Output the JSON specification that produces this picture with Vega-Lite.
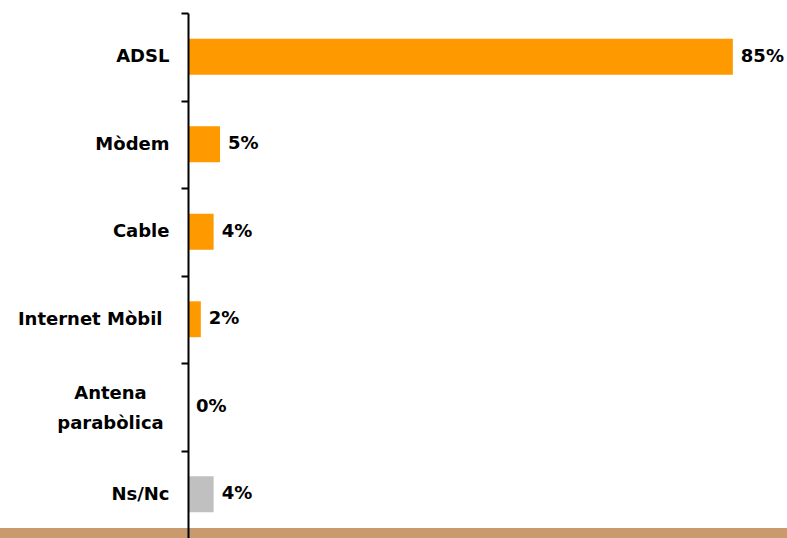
{
  "$schema": "https://vega.github.io/schema/vega-lite/v6.json",
  "width": 599,
  "height": 525,
  "autosize": {"type": "none"},
  "padding": {"left": 188, "top": 13, "right": 0, "bottom": 0},
  "background": "#ffffff",
  "config": {"view": {"stroke": null}},
  "data": {
    "values": [
      {"cat": "ADSL", "val": 0.85, "grp": "a"},
      {"cat": "Mòdem", "val": 0.05, "grp": "a"},
      {"cat": "Cable", "val": 0.04, "grp": "a"},
      {"cat": "Internet Mòbil", "val": 0.02, "grp": "a"},
      {"cat": "Antena|parabòlica", "val": 0.0, "grp": "a"},
      {"cat": "Ns/Nc", "val": 0.04, "grp": "b"}
    ]
  },
  "layer": [
    {
      "mark": {"type": "rect", "clip": false, "color": "#c89a6d"},
      "encoding": {
        "x": {"datum": -0.3, "type": "quantitative", "scale": {"domain": [0, 0.9345], "nice": false, "zero": false}, "axis": null},
        "x2": {"datum": 1.0},
        "y": {"datum": 0, "type": "quantitative", "scale": {"domain": [0, 1], "nice": false, "zero": false}, "axis": null},
        "y2": {"datum": 0.018}
      }
    },
    {
      "layer": [
        {
          "mark": {"type": "bar"},
          "encoding": {
            "color": {"field": "grp", "type": "nominal", "scale": {"domain": ["a", "b"], "range": ["#ff9900", "#c0c0c0"]}, "legend": null}
          }
        },
        {
          "mark": {"type": "text", "align": "left", "baseline": "middle", "dx": 8, "font": "DejaVu Sans", "fontWeight": "bold", "fontSize": 18, "color": "#000000"},
          "encoding": {
            "text": {"field": "val", "type": "quantitative", "format": ".0%"}
          }
        }
      ],
      "encoding": {
        "y": {
          "field": "cat", "type": "nominal", "sort": null,
          "scale": {"paddingInner": 0.59, "paddingOuter": 0.295},
          "axis": {
            "title": null,
            "zindex": 1,
            "domainColor": "#000000",
            "domainWidth": 2,
            "tickOffset": -43.75,
            "labelOffset": {"condition": {"test": "indexof(datum.value, '|') >= 0", "value": 30.75}, "value": 43.75},
            "labelPadding": {"condition": [
              {"test": "indexof(datum.value, '|') >= 0", "value": 71},
              {"test": "datum.value == 'Internet Mòbil'", "value": 19}
            ], "value": 12},
            "tickColor": "#000000",
            "tickWidth": 2,
            "tickSize": 7,
            "labelFont": "DejaVu Sans",
            "labelFontWeight": "bold",
            "labelFontSize": 18,
            "labelColor": "#000000",
            "labelLineHeight": 30,
            "labelLimit": 300,
            "labelAlign": {"condition": {"test": "indexof(datum.value, '|') >= 0", "value": "center"}, "value": "right"},
            "labelExpr": "split(datum.label, '|')"
          }
        },
        "x": {"field": "val", "type": "quantitative", "scale": {"domain": [0, 0.9345], "nice": false}, "axis": null}
      }
    }
  ],
  "resolve": {"scale": {"y": "independent"}}
}
